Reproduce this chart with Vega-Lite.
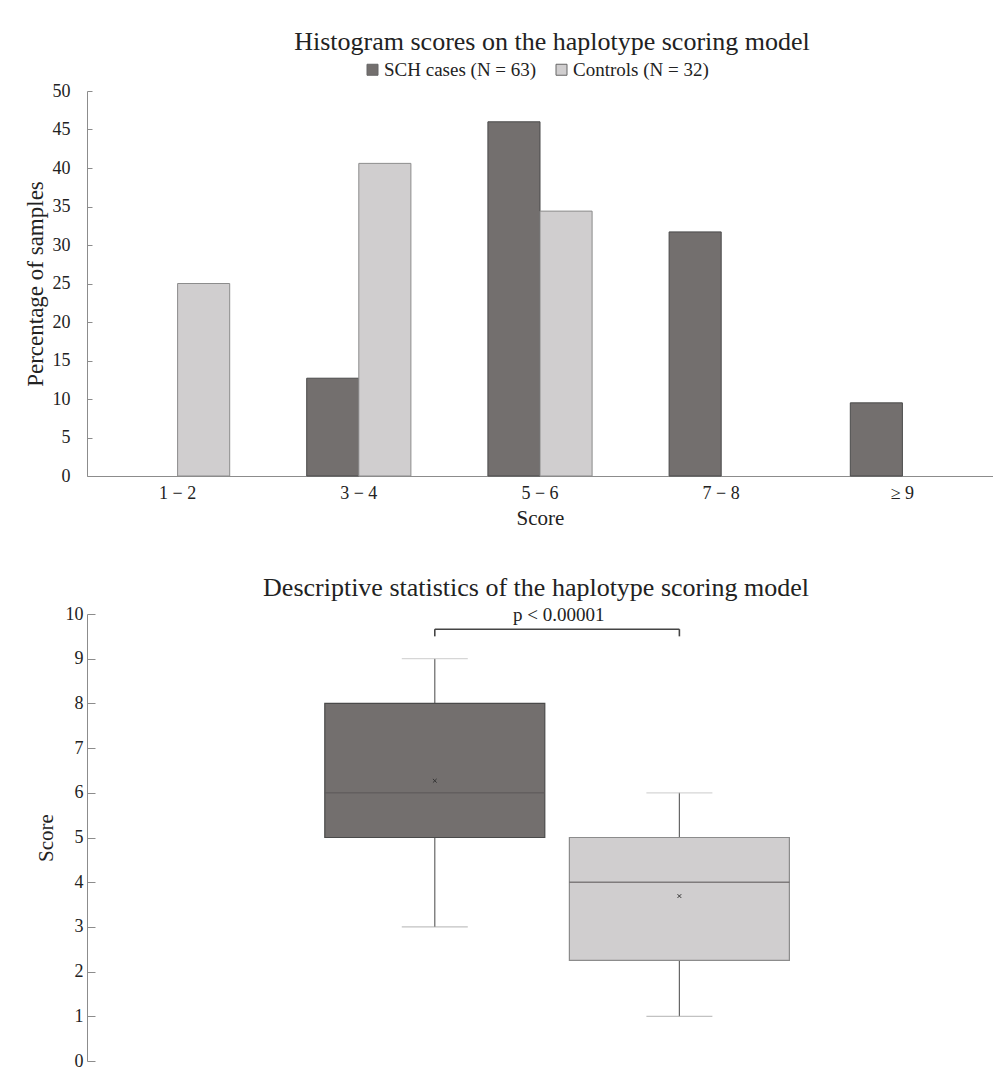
{
  "$schema": "https://vega.github.io/schema/vega-lite/v6.json",
  "background": "white",
  "padding": {"left": 24, "top": 29, "right": 0, "bottom": 0},
  "bounds": "flush",
  "spacing": 138,
  "config": {
    "font": "Liberation Serif",
    "view": {"stroke": null},
    "axis": {
      "labelFont": "Liberation Serif",
      "titleFont": "Liberation Serif",
      "labelColor": "#222222",
      "titleColor": "#222222",
      "labelFontSize": 18,
      "titleFontSize": 21,
      "titleFontWeight": "normal",
      "domainColor": "#8c8c8c",
      "tickColor": "#8c8c8c",
      "grid": false
    },
    "title": {"font": "Liberation Serif", "fontSize": 26, "fontWeight": "normal", "color": "#222222"},
    "legend": {"labelFont": "Liberation Serif", "labelFontSize": 19, "labelColor": "#222222"}
  },
  "vconcat": [
    {
      "width": 906,
      "height": 385,
      "title": {"text": "Histogram scores on the haplotype scoring model", "offset": 27, "dx": 12},
      "data": {
        "values": [
          {"score": "1 − 2", "group": "Controls (N = 32)", "pct": 25.0},
          {"score": "3 − 4", "group": "SCH cases (N = 63)", "pct": 12.7},
          {"score": "3 − 4", "group": "Controls (N = 32)", "pct": 40.6},
          {"score": "5 − 6", "group": "SCH cases (N = 63)", "pct": 46.0},
          {"score": "5 − 6", "group": "Controls (N = 32)", "pct": 34.4},
          {"score": "7 − 8", "group": "SCH cases (N = 63)", "pct": 31.7},
          {"score": "≥ 9", "group": "SCH cases (N = 63)", "pct": 9.5}
        ]
      },
      "mark": {"type": "bar", "strokeWidth": 1},
      "encoding": {
        "x": {
          "field": "score",
          "type": "nominal",
          "sort": ["1 − 2", "3 − 4", "5 − 6", "7 − 8", "≥ 9"],
          "scale": {"domain": ["1 − 2", "3 − 4", "5 − 6", "7 − 8", "≥ 9"], "paddingInner": 0.425, "paddingOuter": 0.2125},
          "axis": {"title": "Score", "labelAngle": 0, "ticks": false, "labelPadding": 8, "titlePadding": 5}
        },
        "xOffset": {
          "field": "group",
          "type": "nominal",
          "scale": {"domain": ["SCH cases (N = 63)", "Controls (N = 32)"], "paddingInner": 0, "paddingOuter": 0}
        },
        "y": {
          "field": "pct",
          "type": "quantitative",
          "scale": {"domain": [0, 50]},
          "axis": {"title": "Percentage of samples", "titleFontSize": 23, "values": [0, 5, 10, 15, 20, 25, 30, 35, 40, 45, 50], "tickSize": -5, "labelPadding": 22, "titlePadding": 5}
        },
        "color": {
          "field": "group",
          "type": "nominal",
          "scale": {"domain": ["SCH cases (N = 63)", "Controls (N = 32)"], "range": ["#736f6e", "#d0cecf"]},
          "legend": {
            "orient": "none",
            "legendX": 276,
            "legendY": -31,
            "direction": "horizontal",
            "title": null,
            "symbolType": "square",
            "symbolSize": 121,
            "symbolStrokeColor": "#666666",
            "symbolStrokeWidth": 1,
            "columnPadding": 15,
            "labelOffset": 2
          }
        },
        "stroke": {
          "field": "group",
          "type": "nominal",
          "scale": {"domain": ["SCH cases (N = 63)", "Controls (N = 32)"], "range": ["#4a4a4a", "#8c8c8c"]},
          "legend": null
        }
      }
    },
    {
      "width": 906,
      "height": 447,
      "title": {"text": "Descriptive statistics of the haplotype scoring model", "offset": 4, "dx": -4},
      "layer": [
        {
          "data": {
            "values": [
              {"group": "SCH cases", "min": 3, "q1": 5, "median": 6, "q3": 8, "max": 9, "mean": 6.27},
              {"group": "Controls", "min": 1, "q1": 2.25, "median": 4, "q3": 5, "max": 6, "mean": 3.69}
            ]
          },
          "encoding": {
            "x": {
              "field": "group",
              "type": "nominal",
              "sort": ["SCH cases", "Controls"],
              "scale": {"type": "band", "domain": ["SCH cases", "Controls"], "paddingInner": 0, "paddingOuter": 0.852, "align": 0.541},
              "axis": null
            }
          },
          "layer": [
            {
              "mark": {"type": "rule", "color": "#666666", "strokeWidth": 1.2},
              "encoding": {
                "y": {"field": "min", "type": "quantitative", "scale": {"domain": [0, 10]},
                  "axis": {"title": "Score", "values": [0, 1, 2, 3, 4, 5, 6, 7, 8, 9, 10], "tickSize": -8, "labelPadding": 12, "titlePadding": 9}},
                "y2": {"field": "max"}
              }
            },
            {
              "mark": {"type": "bar", "width": 220, "strokeWidth": 1.2},
              "encoding": {
                "y": {"field": "q1", "type": "quantitative"},
                "y2": {"field": "q3"},
                "fill": {"field": "group", "type": "nominal", "scale": {"domain": ["SCH cases", "Controls"], "range": ["#736f6e", "#d0cecf"]}, "legend": null},
                "stroke": {"field": "group", "type": "nominal", "scale": {"domain": ["SCH cases", "Controls"], "range": ["#4a4a4a", "#8c8c8c"]}, "legend": null}
              }
            },
            {
              "mark": {"type": "tick", "size": 220, "thickness": 1.5, "color": "#5c5858"},
              "encoding": {"y": {"field": "median", "type": "quantitative"}}
            },
            {
              "mark": {"type": "tick", "size": 66, "thickness": 1.2, "color": "#a8a8a8"},
              "encoding": {"y": {"field": "min", "type": "quantitative"}}
            },
            {
              "mark": {"type": "tick", "size": 66, "thickness": 1.2, "color": "#c4c4c4"},
              "encoding": {"y": {"field": "max", "type": "quantitative"}}
            },
            {
              "mark": {"type": "point", "shape": "M-1,-1L1,1M1,-1L-1,1", "size": 14, "filled": false, "strokeWidth": 1, "color": "#333333", "opacity": 1},
              "encoding": {"y": {"field": "mean", "type": "quantitative"}}
            }
          ]
        },
        {
          "data": {"values": [{"from": "SCH cases", "to": "Controls", "top": 9.66, "bottom": 9.5, "label": "p < 0.00001"}]},
          "layer": [
            {
              "mark": {"type": "rule", "color": "#444444", "strokeWidth": 1.6},
              "encoding": {
                "x": {"field": "from", "type": "nominal"},
                "x2": {"field": "to"},
                "y": {"field": "top", "type": "quantitative"}
              }
            },
            {
              "mark": {"type": "rule", "color": "#444444", "strokeWidth": 1.6},
              "encoding": {
                "x": {"field": "from", "type": "nominal"},
                "y": {"field": "top", "type": "quantitative"},
                "y2": {"field": "bottom"}
              }
            },
            {
              "mark": {"type": "rule", "color": "#444444", "strokeWidth": 1.6},
              "encoding": {
                "x": {"field": "to", "type": "nominal"},
                "y": {"field": "top", "type": "quantitative"},
                "y2": {"field": "bottom"}
              }
            },
            {
              "mark": {"type": "text", "fontSize": 19, "color": "#222222", "dx": 124, "baseline": "middle", "dy": 1},
              "encoding": {
                "x": {"field": "from", "type": "nominal"},
                "y": {"datum": 10, "type": "quantitative"},
                "text": {"field": "label"}
              }
            }
          ]
        }
      ]
    }
  ]
}
